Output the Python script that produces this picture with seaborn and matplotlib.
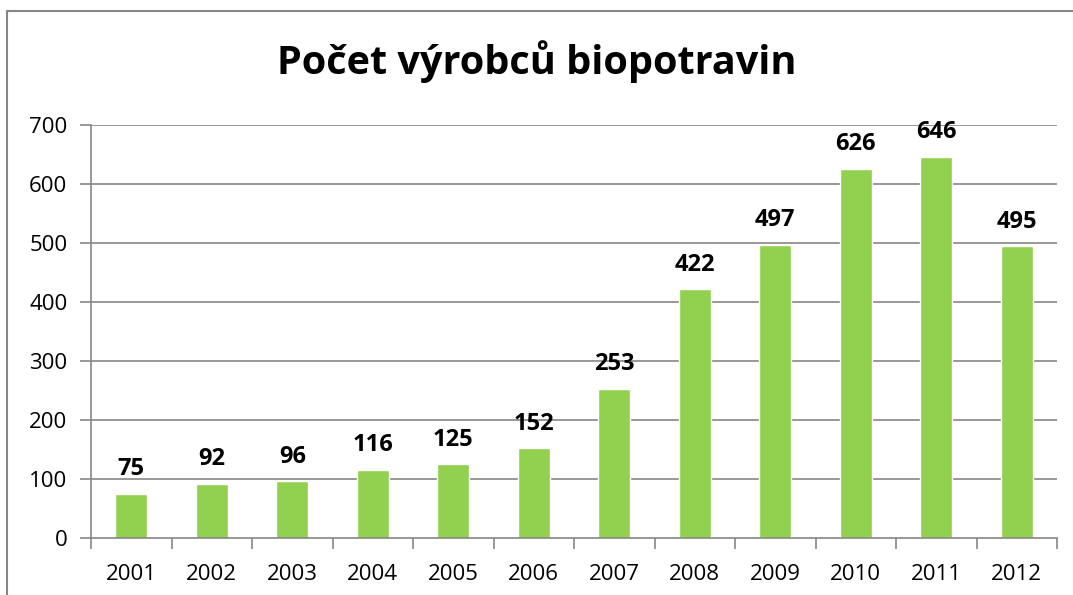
import matplotlib
matplotlib.use("Agg")
import matplotlib.pyplot as plt
import seaborn as sns
import pandas as pd
from matplotlib.lines import Line2D

# Data
years = ['2001', '2002', '2003', '2004', '2005', '2006',
         '2007', '2008', '2009', '2010', '2011', '2012']
producers = [75, 92, 96, 116, 125, 152, 253, 422, 497, 626, 646, 495]
y_ticks = [0, 100, 200, 300, 400, 500, 600, 700]

df = pd.DataFrame({'rok': years, 'pocet': producers})

sns.set_style('white')
plt.rcParams['font.family'] = ['Open Sans', 'DejaVu Sans']
plt.rcParams['text.color'] = 'black'
plt.rcParams['xtick.labelcolor'] = 'black'
plt.rcParams['ytick.labelcolor'] = 'black'

W, H = 1073, 595
fig = plt.figure(figsize=(W / 100, H / 100), dpi=100)
ax = fig.add_axes([91 / W, 1 - 538 / H, (1057 - 91) / W, (538 - 125) / H])

sns.barplot(data=df, x='rok', y='pocet', color='#92D050', width=0.4,
            saturation=1, ax=ax)

ax.set_ylim(0, 700)
ax.set_xlim(-0.5, len(years) - 0.5)
ax.set_yticks(y_ticks)
ax.set_xlabel('')
ax.set_ylabel('')

# gridlines
for t in y_ticks[1:]:
    ax.axhline(t, color='#868686', lw=1.2, zorder=0)

for s in ['top', 'right']:
    ax.spines[s].set_visible(False)
for s in ['left', 'bottom']:
    ax.spines[s].set_color('#868686')
    ax.spines[s].set_linewidth(1.2)

# y ticks on the left, x ticks between categories
ax.tick_params(axis='y', left=True, length=8, color='#868686', width=1.2,
               labelsize=16, pad=9)
ax.set_xticks(range(len(years)))
ax.set_xticklabels(years)
ax.tick_params(axis='x', bottom=False, labelsize=16, pad=15)
ax.set_xticks([i - 0.5 for i in range(len(years) + 1)], minor=True)
ax.tick_params(axis='x', which='minor', bottom=True, length=8,
               color='#868686', width=1.2)

# data labels
for i, v in enumerate(producers):
    ax.text(i, v + 21, str(v), ha='center', va='bottom',
            fontsize=17, fontweight='bold')

fig.text(0.5, 1 - 62 / H, 'Počet výrobců biopotravin', ha='center',
         va='center', fontsize=28.5, fontweight='bold')

# chart frame (top and left edges visible)
fig.add_artist(Line2D([7 / W, 1], [1 - 11 / H, 1 - 11 / H],
                      transform=fig.transFigure, color='#868686', lw=1.5))
fig.add_artist(Line2D([7 / W, 7 / W], [0, 1 - 11 / H],
                      transform=fig.transFigure, color='#868686', lw=1.5))

fig.savefig('out.png', dpi=100)
